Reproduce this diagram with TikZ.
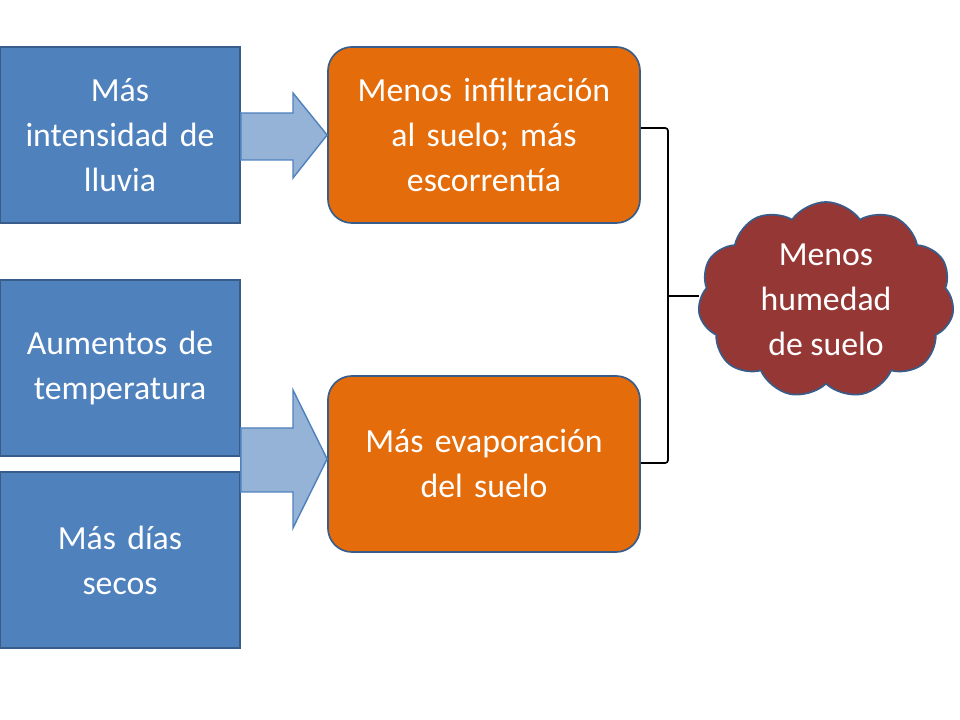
\documentclass[tikz,border=0pt]{standalone}
\usepackage{fontspec}
\setmainfont{Carlito}
\usetikzlibrary{shapes.symbols,positioning}
\definecolor{boxblue}{HTML}{4F81BD}
\definecolor{lineblue}{HTML}{385D8A}
\definecolor{arrowblue}{HTML}{95B3D7}
\definecolor{boxorange}{HTML}{E46C0A}
\definecolor{cloudred}{HTML}{953735}
\begin{document}
\begin{tikzpicture}[x=0.025cm,y=-0.025cm]
    % Define block styles
    \tikzset{
        cause/.style={rectangle, draw=lineblue, line width=1.2pt, fill=boxblue,
            text=white, text width=5.6cm, align=center, minimum width=6cm,
            minimum height=4.4cm, font=\fontsize{24}{32}\selectfont},
        effect/.style={rectangle, rounded corners=0.6cm, draw=lineblue, line width=1.2pt,
            fill=boxorange, text=white, text width=7.4cm, align=center,
            minimum width=7.8cm, minimum height=4.4cm, font=\fontsize{24}{32}\selectfont},
        result/.style={cloud, cloud puffs=11, cloud puff arc=110, aspect=1.3,
            draw=lineblue, line width=1.2pt, fill=cloudred, text=white, align=center,
            minimum width=6.4cm, minimum height=4.9cm, inner sep=0pt,
            font=\fontsize{24}{32}\selectfont},
        bigarrow/.style={draw=boxblue, line width=1pt, fill=arrowblue},
        brace/.style={draw=black, line width=1.2pt, rounded corners=2pt}
    }
    \useasboundingbox (0,0) rectangle (960,720);

    % Place nodes
    \node [cause] (rain) at (120,135) {Más\\intensidad de\\lluvia};
    \node [cause] (temp) at (120,368) {Aumentos de\\temperatura};
    \node [cause] (dry) at (120,560) {Más días\\secos};
    \node [effect] (runoff) at (484,135) {Menos infiltración\\al suelo; más\\escorrentía};
    \node [effect] (evap) at (484,464) {Más evaporación\\del suelo};
    \node [result] (moist) at (826,300) {Menos\\humedad\\de suelo};

    % Draw block arrows
    \draw [bigarrow] (rain.east |- 0,113) -- (293,113) -- (293,93)
        -- (runoff.west |- 0,135) -- (293,178) -- (293,160) -- (rain.east |- 0,160) -- cycle;
    \draw [bigarrow] (temp.east |- 0,428) -- (293,428) -- (293,390)
        -- (evap.west |- 0,459) -- (293,528) -- (293,492) -- (dry.east |- 0,492) -- cycle;

    % Draw bracket
    \path [brace] (runoff.east |- 0,128) -- (668,128) -- (668,463) -- (evap.east |- 0,463);
    \path [brace] (668,296) -- (moist.west |- 0,296);
\end{tikzpicture}
\end{document}
